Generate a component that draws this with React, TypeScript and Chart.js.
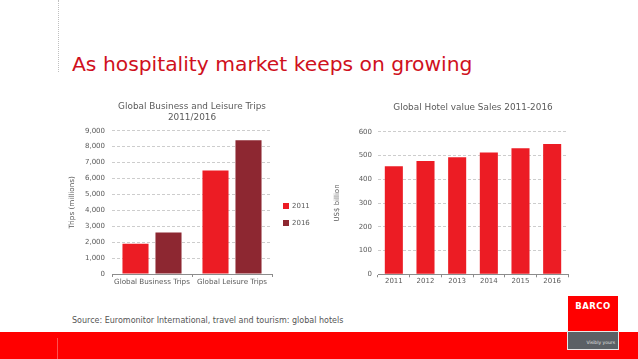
import React, { useEffect, useRef } from 'react';
import { Chart, registerables } from 'chart.js';

Chart.register(...registerables);

const tripCategories = ['Global Business Trips', 'Global Leisure Trips'];
const tripSeriesLabels = ['2011', '2016'];
const trips2011 = [1900, 6500];
const trips2016 = [2600, 8400];

const hotelYears = ['2011', '2012', '2013', '2014', '2015', '2016'];
const hotelSales = [455, 477, 492, 513, 530, 548];

const RED = '#ec1c24';
const DARK_RED = '#8d2731';
const TEXT = '#5a5a5a';
const GRID = '#cdcdcd';
const AXIS = '#8c8c8c';
const FONT = "'DejaVu Sans', Verdana, sans-serif";

function TripsChart() {
  const ref = useRef<HTMLCanvasElement>(null);
  useEffect(() => {
    if (!ref.current) return;
    const chart = new Chart(ref.current, {
      type: 'bar',
      data: {
        labels: tripCategories,
        datasets: [
          { label: tripSeriesLabels[0], data: trips2011, backgroundColor: RED, categoryPercentage: 0.825, barPercentage: 0.79 },
          { label: tripSeriesLabels[1], data: trips2016, backgroundColor: DARK_RED, categoryPercentage: 0.825, barPercentage: 0.79 },
        ],
      },
      options: {
        responsive: false,
        animation: false,
        layout: { padding: { left: 0, right: 58, top: 0, bottom: 0 } },
        plugins: {
          legend: { display: false },
          tooltip: { enabled: false },
          title: {
            display: true,
            fullSize: false,
            text: ['Global Business and Leisure Trips', '2011/2016'],
            color: TEXT,
            font: { family: FONT, size: 8.9, weight: 'normal', lineHeight: 11 / 8.9 },
            padding: { top: 6.5, bottom: 7.2 },
          },
        },
        scales: {
          x: {
            grid: { drawOnChartArea: false, drawTicks: true, tickLength: 3, color: AXIS },
            border: { display: true, color: AXIS },
            ticks: { color: TEXT, font: { family: FONT, size: 7.2 }, padding: 1, maxRotation: 0, autoSkip: false },
            afterFit: (s: any) => { s.height = 21; },
          },
          y: {
            min: 0,
            max: 9000,
            ticks: { stepSize: 1000, color: TEXT, font: { family: FONT, size: 7 }, padding: 7 },
            grid: { color: GRID, drawTicks: false },
            border: { display: false, dash: [3, 2] },
            title: { display: true, text: 'Trips (millions)', color: TEXT, font: { family: FONT, size: 7.2 }, padding: { top: 7.8, bottom: 0 } },
            afterFit: (s: any) => { s.width = 52; },
          },
        },
      },
    });
    return () => chart.destroy();
  }, []);
  return <canvas ref={ref} width={270} height={200} style={{ position: 'absolute', left: 60, top: 95 }} />;
}

function HotelChart() {
  const ref = useRef<HTMLCanvasElement>(null);
  useEffect(() => {
    if (!ref.current) return;
    const chart = new Chart(ref.current, {
      type: 'bar',
      data: {
        labels: hotelYears,
        datasets: [
          { label: 'Global Hotel value Sales', data: hotelSales, backgroundColor: RED, categoryPercentage: 1, barPercentage: 0.57 },
        ],
      },
      options: {
        responsive: false,
        animation: false,
        layout: { padding: { left: 0, right: 12, top: 0, bottom: 0 } },
        plugins: {
          legend: { display: false },
          tooltip: { enabled: false },
          title: {
            display: true,
            fullSize: false,
            text: 'Global Hotel value Sales 2011-2016',
            color: TEXT,
            font: { family: FONT, size: 8.9, weight: 'normal', lineHeight: 11 / 8.9 },
            padding: { top: 7.5, bottom: 18.2 },
          },
        },
        scales: {
          x: {
            grid: { drawOnChartArea: false, drawTicks: true, tickLength: 3, color: AXIS },
            border: { display: true, color: AXIS },
            ticks: { color: TEXT, font: { family: FONT, size: 7 }, padding: 0, maxRotation: 0, autoSkip: false },
            afterFit: (s: any) => { s.height = 20.7; },
          },
          y: {
            min: 0,
            max: 600,
            ticks: { stepSize: 100, color: TEXT, font: { family: FONT, size: 7 }, padding: 6 },
            grid: { color: GRID, drawTicks: false },
            border: { display: false, dash: [3, 2] },
            title: { display: true, text: 'US$ billion', color: TEXT, font: { family: FONT, size: 7 }, padding: { top: 2.8, bottom: 0 } },
            afterFit: (s: any) => { s.width = 48; },
          },
        },
      },
    });
    return () => chart.destroy();
  }, []);
  return <canvas ref={ref} width={250} height={200} style={{ position: 'absolute', left: 330, top: 95 }} />;
}

export default function App() {
  const legendColors = [RED, DARK_RED];
  return (
    <div style={{ position: 'absolute', left: 0, top: 0, width: 638, height: 359, background: '#fff', overflow: 'hidden', fontFamily: FONT }}>
      <div style={{ position: 'absolute', left: 58, top: 0, height: 72, borderLeft: '1px dotted #c0c0c0' }} />
      <div style={{ position: 'absolute', left: 72, top: 54, fontSize: 20.3, lineHeight: '20px', color: '#cf1020', whiteSpace: 'nowrap' }}>
        As hospitality market keeps on growing
      </div>
      <TripsChart />
      <HotelChart />
      {tripSeriesLabels.map((l, i) => (
        <div key={l} style={{ position: 'absolute', left: 283, top: 201 + i * 17, height: 9, display: 'flex', alignItems: 'center', fontSize: 7, color: TEXT }}>
          <span style={{ display: 'inline-block', width: 6, height: 6, background: legendColors[i], marginRight: 3 }} />
          <span>{l}</span>
        </div>
      ))}
      <div style={{ position: 'absolute', left: 72, top: 316, fontSize: 8, lineHeight: '10px', color: '#555', whiteSpace: 'nowrap' }}>
        Source: Euromonitor International, travel and tourism: global hotels
      </div>
      <div style={{ position: 'absolute', left: 0, top: 332, width: 638, height: 27, background: '#ff0000' }} />
      <div style={{ position: 'absolute', left: 57, top: 338, width: 1, height: 21, background: '#ff5050' }} />
      <div style={{ position: 'absolute', left: 568, top: 296, width: 50, height: 36, background: '#ff0000' }} />
      <div style={{ position: 'absolute', left: 567, top: 331, width: 50, height: 17, background: '#5b6065', border: '1px solid #e8e8e8' }} />
      <div style={{ position: 'absolute', left: 568, top: 301, width: 50, textAlign: 'center', fontSize: 8.5, lineHeight: '10px', fontWeight: 'bold', color: '#fff', letterSpacing: 0.5 }}>
        BARCO
      </div>
      <div style={{ position: 'absolute', left: 568, top: 340, width: 47, textAlign: 'right', fontSize: 4.5, lineHeight: '6px', color: '#e0e0e0', whiteSpace: 'nowrap' }}>
        Visibly yours
      </div>
    </div>
  );
}
